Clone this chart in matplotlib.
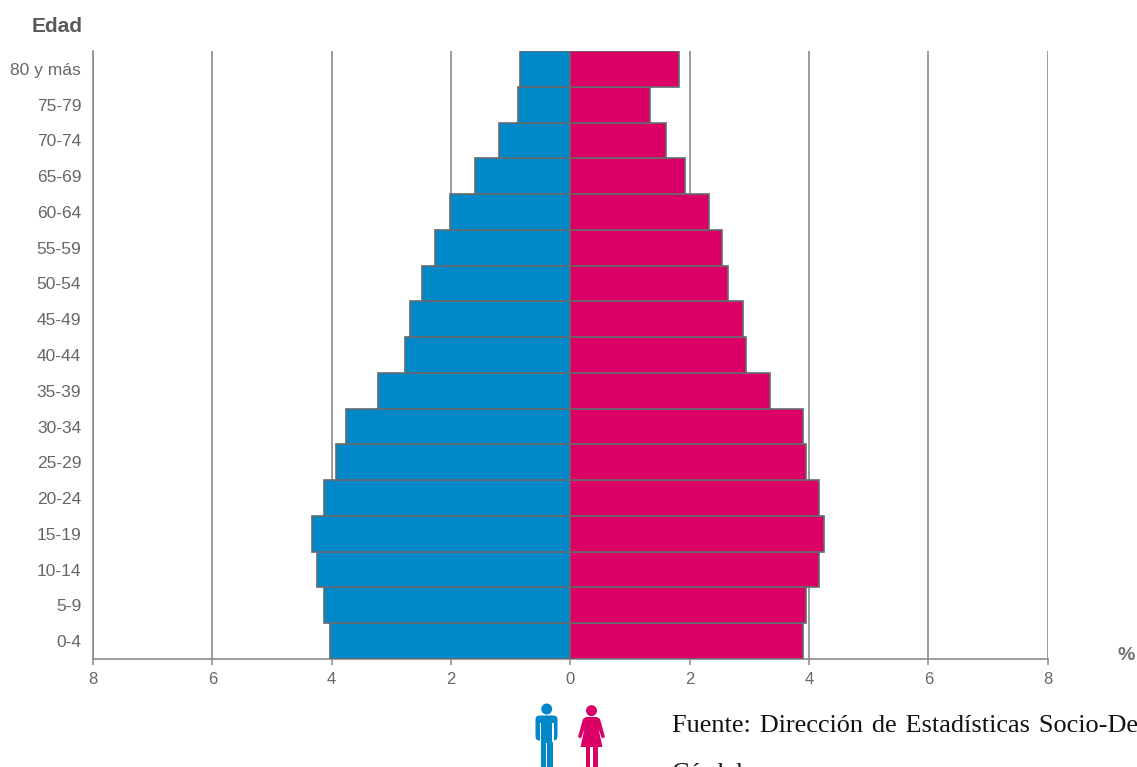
import matplotlib
matplotlib.use("Agg")
import matplotlib.pyplot as plt
from matplotlib.patches import Circle, Polygon, FancyBboxPatch, Rectangle

age_groups = ["0-4", "5-9", "10-14", "15-19", "20-24", "25-29", "30-34", "35-39", "40-44",
              "45-49", "50-54", "55-59", "60-64", "65-69", "70-74", "75-79", "80 y más"]
male = [4.03, 4.12, 4.25, 4.33, 4.13, 3.93, 3.76, 3.23, 2.77,
        2.69, 2.49, 2.27, 2.02, 1.60, 1.20, 0.88, 0.85]
female = [3.90, 3.95, 4.17, 4.25, 4.17, 3.95, 3.90, 3.35, 2.95,
          2.90, 2.65, 2.55, 2.33, 1.93, 1.60, 1.34, 1.82]
x_ticks = [-8, -6, -4, -2, 0, 2, 4, 6, 8]
x_tick_labels = ["8", "6", "4", "2", "0", "2", "4", "6", "8"]

W, H = 1137, 767
BLUE = "#0088c8"
PINK = "#db0066"
TEXT = "#666666"
RULE = "#8a8a8a"
BAR_EDGE = "#666a70"

plt.rcParams["font.family"] = ["Liberation Sans", "DejaVu Sans"]
fig = plt.figure(figsize=(W / 100, H / 100), dpi=100)
ax = fig.add_axes([93.0 / W, 1 - 659 / H, (1047.6 - 93.0) / W, (659 - 51) / H])

positions = list(range(len(age_groups)))
ax.barh(positions, [-v for v in male], height=1.0, color=BLUE, edgecolor=BAR_EDGE, linewidth=1.2, zorder=3)
ax.barh(positions, female, height=1.0, color=PINK, edgecolor=BAR_EDGE, linewidth=1.2, zorder=3)

ax.set_xlim(-8, 8)
ax.set_ylim(-0.5, len(age_groups) - 0.5)
ax.set_xticks(x_ticks, x_tick_labels)
ax.set_yticks(positions, age_groups)
ax.grid(axis="x", color=RULE, linewidth=1.2, zorder=1)
ax.set_axisbelow(True)
for side in ("top", "right"):
    ax.spines[side].set_visible(False)
for side in ("left", "bottom"):
    ax.spines[side].set_color(RULE)
    ax.spines[side].set_linewidth(1.2)
ax.spines["left"].set_zorder(2)
ax.tick_params(axis="y", length=0, pad=8.5, labelsize=12.5, labelcolor=TEXT)
ax.tick_params(axis="x", length=4, width=1.1, color=RULE, pad=5, labelsize=12, labelcolor=TEXT)

fig.text(83 / W, 1 - 27 / H, "Edad", ha="right", va="center", fontsize=15, fontweight="bold", color="#595959")
fig.text(1118 / W, 1 - 656 / H, "%", ha="left", va="center", fontsize=14, fontweight="bold", color="#707070")

# Source note running past the page edge, with its second line cut off below;
# a hair space after each word widens the gaps as in justified text
serif = ["Liberation Serif", "DejaVu Serif"]
gap = " \u200a"
fig.text(672 / W, 1 - 732 / H,
         gap.join(["Fuente:", "Dirección", "de", "Estadísticas", "Socio-Demográficas,"]),
         ha="left", va="baseline", fontsize=18.9, family=serif, color="#111111")
fig.text(672 / W, 1 - 780 / H, "Córdoba.", ha="left", va="baseline", fontsize=18.9, family=serif, color="#111111")

# Pixel-space overlay for the two pictograms
overlay = fig.add_axes([0, 0, 1, 1], zorder=5)
overlay.set_xlim(0, W)
overlay.set_ylim(H, 0)
overlay.axis("off")

# Man
overlay.add_patch(Circle((546.7, 709), 5.5, color=BLUE, lw=0))
overlay.add_patch(FancyBboxPatch((535.5, 715.5), 22, 25, boxstyle="round,pad=0,rounding_size=4", color=BLUE, lw=0))
overlay.add_patch(Rectangle((541, 716), 11.5, 51, color=BLUE, lw=0))
overlay.add_patch(Rectangle((539.8, 723), 1.5, 19, color="white", lw=0))
overlay.add_patch(Rectangle((552.2, 723), 1.5, 19, color="white", lw=0))
overlay.add_patch(Rectangle((546.1, 743), 1.3, 24, color="white", lw=0))

# Woman
overlay.add_patch(Circle((591.5, 710.7), 5.5, color=PINK, lw=0))
overlay.add_patch(Polygon([(586, 717), (597, 717), (600, 719), (605, 737), (602, 738.5), (598.5, 729),
                           (602.5, 747), (580.5, 747), (584.5, 729), (581, 738.5), (578, 737), (583, 719)],
                          closed=True, color=PINK, lw=0))
overlay.add_patch(Rectangle((585.5, 746), 4.5, 21, color=PINK, lw=0))
overlay.add_patch(Rectangle((593, 746), 4.5, 21, color=PINK, lw=0))

fig.savefig("out.png", dpi=100)
